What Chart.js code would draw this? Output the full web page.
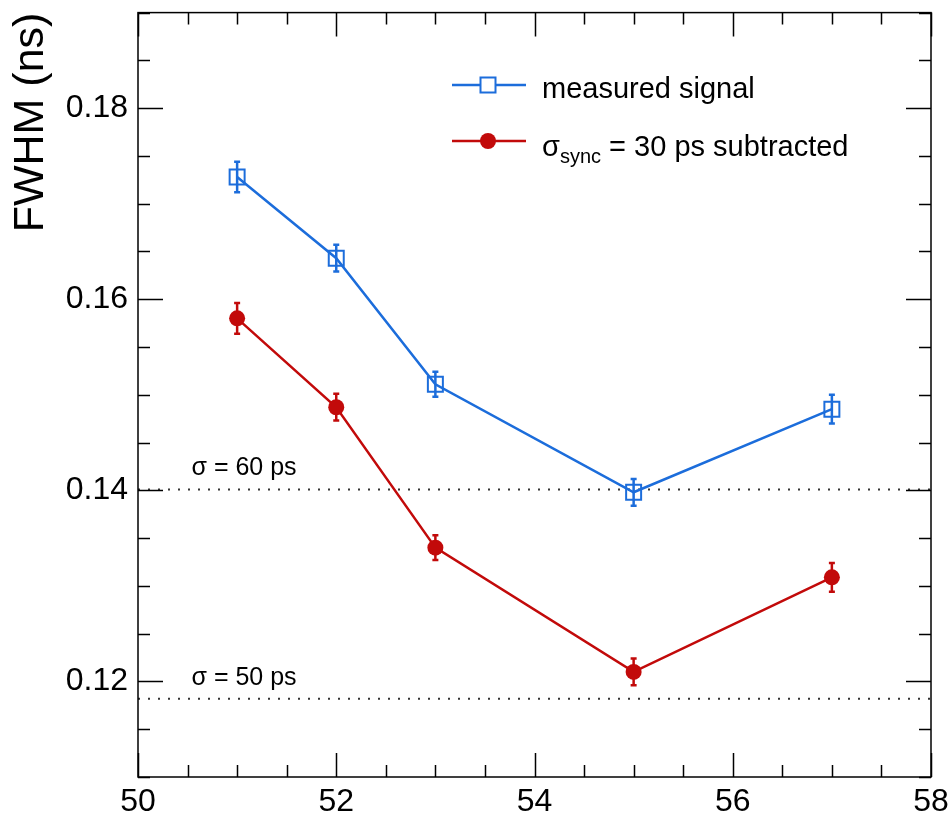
<!DOCTYPE html>
<html>
<head>
<meta charset="utf-8">
<script src="https://cdn.jsdelivr.net/npm/chart.js@4.4.1/dist/chart.umd.min.js"></script>
<style>
  body { margin: 0; background: #fff; }
  #wrap { width: 951px; height: 817px; }
</style>
</head>
<body>
<div id="wrap"><canvas id="myChart" width="951" height="817"></canvas></div>
<script>
// threshold values
const thresholds = [51, 52, 53, 55, 57];

const measured = [0.1728, 0.1643, 0.1511, 0.1398, 0.1485];
const measuredErr = [0.0016, 0.0014, 0.0013, 0.0014, 0.0015];

const subtracted = [0.1580, 0.1487, 0.1340, 0.1210, 0.1309];
const subtractedErr = [0.0016, 0.0014, 0.0013, 0.0014, 0.0015];

// reference resolutions (FWHM for sigma = 60 / 50 ps)
const refLevels = [0.1401, 0.1182];
const refLabels = ['σ = 60 ps', 'σ = 50 ps'];

const xTicks = [50, 52, 54, 56, 58];
const yTicks = [0.12, 0.14, 0.16, 0.18];

const BLUE = '#1c6ddb';
const RED = '#c20a0a';
const FONT = '"Liberation Sans", Arial, Helvetica, sans-serif';

Chart.defaults.font.family = FONT;
Chart.defaults.color = '#000';

// error bars, drawn under the markers
const errorBars = {
    id: 'errorBars',
    beforeDatasetsDraw(chart) {
        const { ctx, scales: { x, y } } = chart;
        const sets = [
            [measured, measuredErr, BLUE],
            [subtracted, subtractedErr, RED]
        ];
        ctx.save();
        ctx.lineWidth = 2.5;
        sets.forEach(([vals, errs, color]) => {
            ctx.strokeStyle = color;
            vals.forEach((v, i) => {
                const px = x.getPixelForValue(thresholds[i]);
                const top = y.getPixelForValue(v + errs[i]);
                const bot = y.getPixelForValue(v - errs[i]);
                ctx.beginPath();
                ctx.moveTo(px, top);
                ctx.lineTo(px, bot);
                ctx.moveTo(px - 3, top);
                ctx.lineTo(px + 3, top);
                ctx.moveTo(px - 3, bot);
                ctx.lineTo(px + 3, bot);
                ctx.stroke();
            });
        });
        ctx.restore();
    }
};

// frame with inward ticks on all four sides, text labels and legend
const frame = {
    id: 'frame',
    afterDraw(chart) {
        const { ctx, chartArea: a, scales: { x, y } } = chart;
        ctx.save();
        ctx.strokeStyle = '#000';
        ctx.lineWidth = 1.5;
        ctx.strokeRect(a.left, a.top, a.right - a.left, a.bottom - a.top);

        ctx.beginPath();
        for (let v = 50; v <= 58.001; v += 0.5) {
            const px = Math.round(x.getPixelForValue(v)) + 0.5;
            const len = xTicks.includes(Math.round(v * 10) / 10) ? 24 : 12;
            ctx.moveTo(px, a.bottom); ctx.lineTo(px, a.bottom - len);
            ctx.moveTo(px, a.top); ctx.lineTo(px, a.top + len);
        }
        for (let k = 22; k <= 38; k++) {
            const v = k * 0.005;
            const py = Math.round(y.getPixelForValue(v)) + 0.5;
            const len = k % 4 === 0 ? 25 : 12;
            ctx.moveTo(a.left, py); ctx.lineTo(a.left + len, py);
            ctx.moveTo(a.right, py); ctx.lineTo(a.right - len, py);
        }
        ctx.stroke();

        // labels above the dotted reference lines
        ctx.fillStyle = '#000';
        ctx.font = '25px ' + FONT;
        ctx.textBaseline = 'alphabetic';
        refLevels.forEach((lv, i) => {
            ctx.fillText(refLabels[i], x.getPixelForValue(50.54), y.getPixelForValue(lv) - 14);
        });

        // legend
        const lx0 = 452, lx1 = 526, mx = 488, tx = 542;
        const rows = [85, 141];
        ctx.lineWidth = 2.5;
        ctx.strokeStyle = BLUE;
        ctx.beginPath(); ctx.moveTo(lx0, rows[0]); ctx.lineTo(lx1, rows[0]); ctx.stroke();
        ctx.lineWidth = 2;
        ctx.fillStyle = '#fff';
        ctx.fillRect(mx - 7.5, rows[0] - 7.5, 15, 15);
        ctx.strokeRect(mx - 7.5, rows[0] - 7.5, 15, 15);

        ctx.lineWidth = 2.5;
        ctx.strokeStyle = RED;
        ctx.beginPath(); ctx.moveTo(lx0, rows[1]); ctx.lineTo(lx1, rows[1]); ctx.stroke();
        ctx.fillStyle = RED;
        ctx.beginPath(); ctx.arc(mx, rows[1], 8, 0, Math.PI * 2); ctx.fill();

        ctx.fillStyle = '#000';
        ctx.font = '29px ' + FONT;
        ctx.fillText('measured signal', tx, 98);
        let cx = tx;
        ctx.fillText('σ', cx, 156);
        cx += ctx.measureText('σ').width;
        ctx.font = '20px ' + FONT;
        ctx.fillText('sync', cx, 163);
        cx += ctx.measureText('sync').width;
        ctx.font = '29px ' + FONT;
        ctx.fillText(' = 30 ps subtracted', cx, 156);
        ctx.restore();
    }
};

const refLine = lv => ({
    data: [{ x: 50, y: lv }, { x: 58, y: lv }],
    borderColor: '#333',
    borderWidth: 2,
    borderDash: [2, 8],
    pointRadius: 0,
    order: 3
});

const config = {
    type: 'line',
    data: {
        datasets: [
            {
                label: 'measured signal',
                data: thresholds.map((t, i) => ({ x: t, y: measured[i] })),
                borderColor: BLUE,
                borderWidth: 2.5,
                pointStyle: 'rect',
                pointRadius: 10.6,
                pointBorderWidth: 2,
                pointBorderColor: BLUE,
                pointBackgroundColor: 'transparent',
                order: 1
            },
            {
                label: 'σsync = 30 ps subtracted',
                data: thresholds.map((t, i) => ({ x: t, y: subtracted[i] })),
                borderColor: RED,
                borderWidth: 2.5,
                pointStyle: 'circle',
                pointRadius: 8,
                pointBorderWidth: 0,
                pointBackgroundColor: RED,
                order: 2
            },
            refLine(refLevels[0]),
            refLine(refLevels[1])
        ]
    },
    options: {
        responsive: false,
        animation: false,
        layout: { padding: { top: 9, right: 20, bottom: 0, left: 0 } },
        plugins: {
            legend: { display: false },
            tooltip: { enabled: false }
        },
        scales: {
            x: {
                type: 'linear',
                min: 50,
                max: 58,
                afterBuildTicks: s => { s.ticks = xTicks.map(v => ({ value: v })); },
                afterFit: s => { s.height = 40; s.paddingLeft = 0; s.paddingRight = 0; },
                ticks: { font: { size: 32 }, color: '#000', padding: 6 },
                grid: { display: false, drawTicks: false },
                border: { display: false }
            },
            y: {
                type: 'linear',
                min: 0.11,
                max: 0.19,
                afterBuildTicks: s => { s.ticks = yTicks.map(v => ({ value: v })); },
                afterFit: s => { s.width = 138; s.paddingTop = 0; s.paddingBottom = 0; },
                ticks: {
                    font: { size: 32 },
                    color: '#000',
                    padding: 10,
                    callback: v => v.toFixed(2)
                },
                grid: { display: false, drawTicks: false },
                border: { display: false },
                title: {
                    display: true,
                    text: 'FWHM (ns)',
                    align: 'end',
                    color: '#000',
                    font: { size: 43 },
                    padding: { top: 5, bottom: 0 }
                }
            }
        }
    },
    plugins: [errorBars, frame]
};

const ctx = document.getElementById('myChart').getContext('2d');
new Chart(ctx, config);
</script>
</body>
</html>
